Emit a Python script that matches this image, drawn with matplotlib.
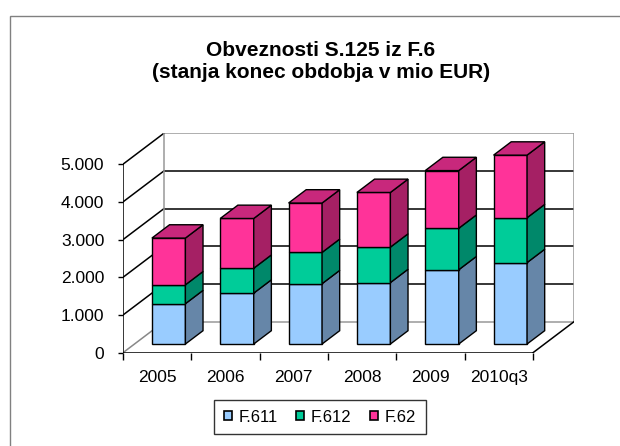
import matplotlib.pyplot as plt
from matplotlib.patches import Polygon, Patch, Rectangle
import numpy as np

plt.rcParams['font.family'] = ['Liberation Sans', 'DejaVu Sans']

years = ['2005', '2006', '2007', '2008', '2009', '2010q3']
series = ['F.611', 'F.612', 'F.62']
f611 = [1070, 1350, 1600, 1630, 1970, 2160]
f612 = [500, 660, 830, 940, 1100, 1190]
f62 = [1240, 1320, 1310, 1450, 1530, 1660]
values = [f611, f612, f62]

front_cols = ['#99CCFF', '#00CC99', '#FF3399']
side_cols = ['#6686A8', '#00886A', '#A52064']
top_col = '#C8287C'

# oblique 3d look: full depth of floor in data units
DX, DY = 0.6, 822
f0, f1 = 0.28, 0.71          # bar depth inside floor
w = 0.49                     # bar width

fig = plt.figure(figsize=(6.2, 4.46), dpi=100)
fig.add_artist(Rectangle((10 / 620, -0.1), 1.2, (446 - 16) / 446 + 0.1,
                         transform=fig.transFigure, fill=False,
                         edgecolor='#808080', linewidth=1))

ax = fig.add_axes([123 / 620, 93.3 / 446, 451 / 620, 219.5 / 446])
ax.set_xlim(-0.5, 5.5 + DX)
ax.set_ylim(0, 5000 + DY)
for s in ax.spines.values():
    s.set_visible(False)

n = len(years)
x = np.arange(n)
ymax = 5000
levels = np.arange(0, ymax + 1, 1000)

# back wall
for lv in levels:
    col = '#999999' if lv in (0, ymax) else 'black'
    ax.plot([-0.5 + DX, n - 0.5 + DX], [lv + DY, lv + DY], color=col, lw=1.1, zorder=1)
    ax.plot([-0.5, -0.5 + DX], [lv, lv + DY], color='#888888' if lv == 0 else 'black',
            lw=1.1, zorder=1)
ax.plot([-0.5 + DX, -0.5 + DX], [DY, ymax + DY], color='#999999', lw=1.1, zorder=1)
ax.plot([n - 0.5 + DX, n - 0.5 + DX], [DY, ymax + DY], color='#999999', lw=1.1, zorder=1)
# floor and front axis
ax.plot([-0.5, n - 0.5], [0, 0], color='black', lw=1.1, zorder=1)
ax.plot([n - 0.5, n - 0.5 + DX], [0, DY], color='black', lw=1.1, zorder=1)
ax.plot([-0.5, -0.5], [0, ymax], color='black', lw=1.1, zorder=1)

sx, sy = f0 * DX, f0 * DY
ddx, ddy = (f1 - f0) * DX, (f1 - f0) * DY
bottom = np.zeros(n)
for k, vals in enumerate(values):
    vals = np.array(vals)
    ax.bar(x + sx, vals, w, bottom=bottom + sy, color=front_cols[k],
           edgecolor='black', linewidth=1.0, zorder=3)
    for i in range(n):
        xr = x[i] + sx + w / 2
        b, t = bottom[i] + sy, bottom[i] + vals[i] + sy
        ax.add_patch(Polygon([(xr, b), (xr + ddx, b + ddy), (xr + ddx, t + ddy), (xr, t)],
                             closed=True, facecolor=side_cols[k], edgecolor='black',
                             linewidth=1.0, zorder=3))
        if k == len(values) - 1:
            xl = x[i] + sx - w / 2
            ax.add_patch(Polygon([(xl, t), (xr, t), (xr + ddx, t + ddy), (xl + ddx, t + ddy)],
                                 closed=True, facecolor=top_col, edgecolor='black',
                                 linewidth=1.0, zorder=3))
    bottom = bottom + vals

ax.set_yticks(levels)
ax.set_yticklabels(['0' if v == 0 else f'{v // 1000}.000' for v in levels])
ax.tick_params(axis='y', length=3.5, width=1, pad=10, labelsize=12.5)
ax.set_xticks(np.arange(n + 1) - 0.5)
ax.set_xticklabels([])
ax.set_xticks(x, minor=True)
ax.set_xticklabels(years, minor=True)
ax.tick_params(axis='x', which='major', length=5, width=1)
ax.tick_params(axis='x', which='minor', length=0, pad=12.5, labelsize=12.5)

fig.text(321 / 620, 1 - 55.7 / 446, 'Obveznosti S.125 iz F.6', ha='center',
         va='baseline', fontsize=15, fontweight='bold')
fig.text(321 / 620, 1 - 78 / 446, '(stanja konec obdobja v mio EUR)', ha='center',
         va='baseline', fontsize=15, fontweight='bold')

handles = [Patch(facecolor=c, edgecolor='black', linewidth=1.2) for c in front_cols]
leg = fig.legend(handles, series, loc='center', bbox_to_anchor=(320 / 620, 1 - 417 / 446),
                 ncol=3, fontsize=12, frameon=True, fancybox=False, handlelength=0.5,
                 handleheight=0.5, handletextpad=0.4, columnspacing=1.1,
                 borderpad=0.55, borderaxespad=0)
leg.get_frame().set_edgecolor('black')
leg.get_frame().set_linewidth(1)

fig.savefig('out.png', dpi=100)
